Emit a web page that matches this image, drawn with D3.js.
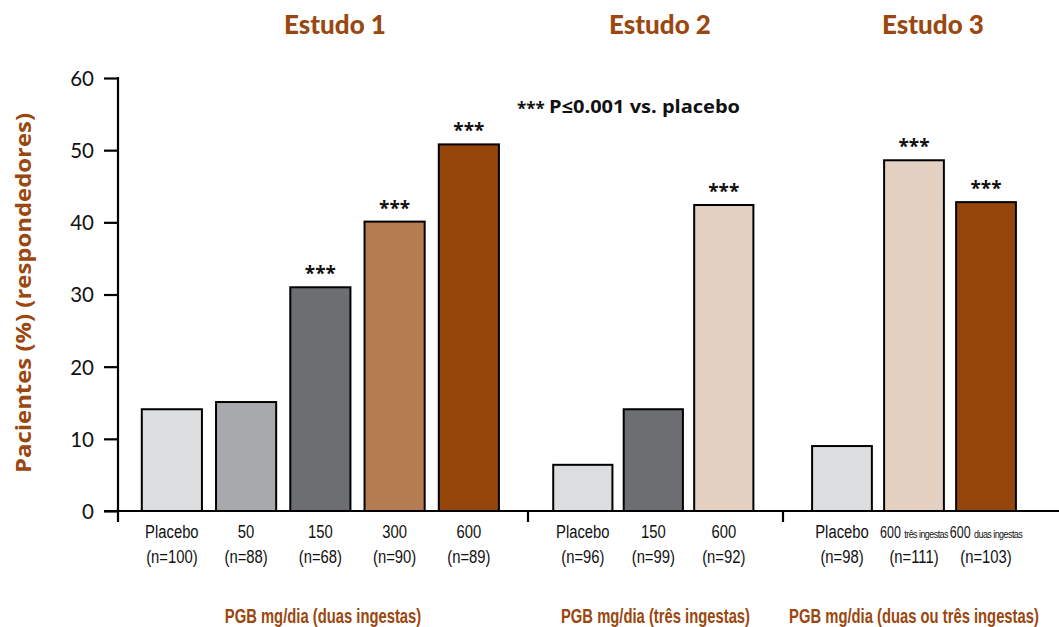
<!DOCTYPE html>
<html>
<head>
<meta charset="utf-8">
<script src="https://cdn.jsdelivr.net/npm/d3@7"></script>
<style>
  html, body { margin: 0; padding: 0; background: #fff; }
  svg { display: block; }
</style>
</head>
<body>
<svg id="chart" width="1059" height="627"></svg>
<script>
// ---------------- DATA ----------------
const studyTitles = ["Estudo 1", "Estudo 2", "Estudo 3"];
const studyAxisTitles = ["PGB mg/dia (duas ingestas)", "PGB mg/dia (três ingestas)", "PGB mg/dia (duas ou três ingestas)"];

const study1Categories = ["Placebo", "50", "150", "300", "600"];
const study1Notes      = ["", "", "", "", ""];
const study1N          = [100, 88, 68, 90, 89];
const study1Values     = [14.1, 15.1, 31.0, 40.1, 50.8];
const study1Signif     = [false, false, true, true, true];

const study2Categories = ["Placebo", "150", "600"];
const study2Notes      = ["", "", ""];
const study2N          = [96, 99, 92];
const study2Values     = [6.4, 14.1, 42.4];
const study2Signif     = [false, false, true];

const study3Categories = ["Placebo", "600", "600"];
const study3Notes      = ["", "três ingestas", "duas ingestas"];
const study3N          = [98, 111, 103];
const study3Values     = [9.0, 48.6, 42.8];
const study3Signif     = [false, true, true];

const yTicks = [0, 10, 20, 30, 40, 50, 60];
const yTitle = "Pacientes (%) (respondedores)";
const legendStars = "***";
const legendText = "P≤0.001 vs. placebo";

// ---------------- STYLE / LAYOUT ----------------
const C_LIGHT = "#dcdddf", C_MID = "#a7a9ac", C_DARK = "#6d6e71",
      C_TAN = "#b57b51", C_BROWN = "#96450b", C_PALE = "#e4d0c1";
const studyColors = [
  [C_LIGHT, C_MID, C_DARK, C_TAN, C_BROWN],
  [C_LIGHT, C_DARK, C_PALE],
  [C_LIGHT, C_PALE, C_BROWN]
];
const titleColor = "#9a4710";
const groupLayout = [
  { range: [118, 528], pi: 0.19, po: 0.356, align: 0.45 },
  { range: [528, 783], pi: 0.16, po: 0.389, align: 0.46 },
  { range: [783, 1045], pi: 0.17, po: 0.404, align: 0.5 }
];
const titleX = [335, 660, 933];
const NARROW = "'Liberation Sans', Arial, sans-serif";
const SQ_LAB = 0.78;   // horizontal condensing for tick labels
const SQ_TITLE = 0.74; // horizontal condensing for group axis titles

const studies = [
  { cats: study1Categories, notes: study1Notes, n: study1N, vals: study1Values, sig: study1Signif },
  { cats: study2Categories, notes: study2Notes, n: study2N, vals: study2Values, sig: study2Signif },
  { cats: study3Categories, notes: study3Notes, n: study3N, vals: study3Values, sig: study3Signif }
];

const svg = d3.select("#chart");
const y = d3.scaleLinear().domain([0, 60]).range([511, 78]);
const axisX = 118;
const baseY = y(0);

// Y axis
const yAxis = d3.axisLeft(y).tickValues(yTicks).tickSize(14).tickPadding(10).tickSizeOuter(0);
const yg = svg.append("g").attr("transform", `translate(${axisX},0)`).call(yAxis);
yg.select(".domain").remove();
yg.selectAll(".tick line").attr("stroke", "#000").attr("stroke-width", 2.2);
yg.selectAll(".tick text")
  .attr("font-family", "Lato, 'Open Sans', sans-serif")
  .attr("font-size", 20.5).attr("fill", "#111").attr("dy", "0.36em");
svg.append("line").attr("x1", axisX).attr("x2", axisX)
  .attr("y1", y(60) - 1).attr("y2", baseY + 11)
  .attr("stroke", "#000").attr("stroke-width", 2.2);

// X axis baseline
svg.append("line").attr("x1", axisX - 14).attr("x2", 1059)
  .attr("y1", baseY).attr("y2", baseY)
  .attr("stroke", "#000").attr("stroke-width", 2.2);
groupLayout.slice(1).forEach(L => {
  svg.append("line").attr("x1", L.range[0]).attr("x2", L.range[0])
    .attr("y1", baseY).attr("y2", baseY + 11)
    .attr("stroke", "#000").attr("stroke-width", 2.2);
});

// Y title
svg.append("text")
  .attr("transform", `translate(31,${293}) rotate(-90)`)
  .attr("text-anchor", "middle")
  .attr("font-family", "'Open Sans', sans-serif")
  .attr("font-weight", "bold").attr("font-size", 21.5)
  .attr("textLength", 360).attr("lengthAdjust", "spacingAndGlyphs")
  .attr("fill", titleColor)
  .text(yTitle);

// Studies
studies.forEach((s, gi) => {
  const L = groupLayout[gi];
  const keys = s.cats.map((c, i) => i);
  const x = d3.scaleBand().domain(keys).range(L.range)
    .paddingInner(L.pi).paddingOuter(L.po).align(L.align);
  const g = svg.append("g");
  const rows = keys.map(i => ({ i, cat: s.cats[i], note: s.notes[i], n: s.n[i], v: s.vals[i], sig: s.sig[i] }));

  g.selectAll("rect").data(rows).enter().append("rect")
    .attr("x", d => x(d.i)).attr("width", x.bandwidth())
    .attr("y", d => y(d.v)).attr("height", d => baseY - y(d.v))
    .attr("fill", d => studyColors[gi][d.i])
    .attr("stroke", "#000").attr("stroke-width", 2);

  g.selectAll("text.star").data(rows.filter(d => d.sig)).enter().append("text")
    .attr("class", "star")
    .attr("x", d => x(d.i) + x.bandwidth() / 2)
    .attr("y", d => y(d.v) - 7)
    .attr("text-anchor", "middle")
    .attr("font-family", "'Open Sans', sans-serif")
    .attr("font-weight", "bold")
    .attr("font-size", 19).attr("fill", "#111")
    .text(legendStars);

  const lab = g.selectAll("text.lab").data(rows).enter().append("text")
    .attr("class", "lab")
    .attr("transform", d => `translate(${x(d.i) + x.bandwidth() / 2},0) scale(${SQ_LAB},1)`)
    .attr("text-anchor", "middle")
    .attr("font-family", NARROW)
    .attr("font-size", 19).attr("fill", "#111");
  lab.each(function(d) {
    const t = d3.select(this);
    if (d.note) {
      const l1 = t.append("tspan").attr("x", 0).attr("y", 538);
      l1.append("tspan").attr("font-size", 16).text(d.cat + " ");
      l1.append("tspan").attr("font-size", 11.5).attr("letter-spacing", -0.7).text(d.note);
    } else {
      t.append("tspan").attr("x", 0).attr("y", 538).text(d.cat);
    }
    t.append("tspan").attr("x", 0).attr("y", 563).text(`(n=${d.n})`);
  });

  svg.append("text")
    .attr("x", titleX[gi]).attr("y", 34)
    .attr("text-anchor", "middle")
    .attr("font-family", "Lato, 'Open Sans', sans-serif")
    .attr("font-weight", "900").attr("font-size", 26)
    .attr("fill", titleColor)
    .text(studyTitles[gi]);

  svg.append("text")
    .attr("transform", `translate(${(L.range[0] + L.range[1]) / 2},623) scale(${SQ_TITLE},1)`)
    .attr("text-anchor", "middle")
    .attr("font-family", NARROW)
    .attr("font-weight", "bold").attr("font-size", 20)
    .attr("fill", titleColor)
    .text(studyAxisTitles[gi]);
});

// Legend
svg.append("text").attr("x", 517).attr("y", 115)
  .attr("font-family", "'Open Sans', sans-serif").attr("fill", "#111")
  .attr("font-size", 17).attr("font-weight", "bold")
  .text(legendStars);
svg.append("text").attr("x", 549).attr("y", 113)
  .attr("font-family", "'Open Sans', sans-serif").attr("fill", "#111")
  .attr("font-size", 18).attr("font-weight", "bold")
  .attr("textLength", 191).attr("lengthAdjust", "spacingAndGlyphs")
  .text(legendText);
</script>
</body>
</html>
